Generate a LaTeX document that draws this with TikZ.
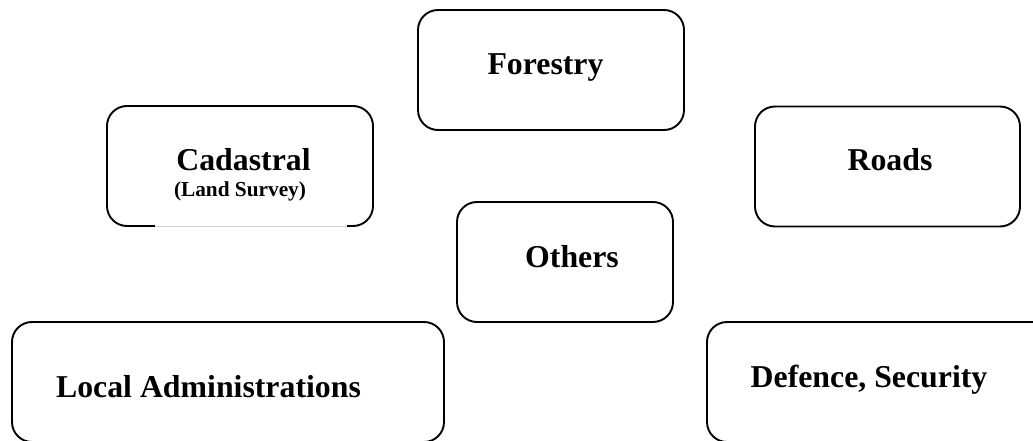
\documentclass[tikz,border=0pt]{standalone}
\usepackage{fontspec}
\setmainfont{Liberation Serif}
\begin{document}
\begin{tikzpicture}[x=1pt,y=-1pt,
  box/.style={draw=black, line width=1.9pt, rounded corners=20pt, inner sep=0pt, fill=white},
  lbl/.style={anchor=base, inner sep=0pt, font=\fontsize{31.8}{38}\selectfont\bfseries},
  sublbl/.style={anchor=base, inner sep=0pt, font=\fontsize{21.3}{25}\selectfont\bfseries}]
  \useasboundingbox (0,0) rectangle (1033,441);
  \clip (0,0) rectangle (1033,441);
  % category boxes
  \node[box, minimum width=266pt, minimum height=120pt] (forestry) at (551,70) {};
  \node[box, minimum width=266pt, minimum height=120pt] (cadastral) at (240,166) {};
  \node[box, minimum width=265pt, minimum height=120pt] (roads) at (887.5,166.5) {};
  \node[box, minimum width=216pt, minimum height=120pt] (others) at (565,262) {};
  \node[box, minimum width=432pt, minimum height=120pt] (localadm) at (228,382) {};
  \node[box, minimum width=360pt, minimum height=120pt] (defence) at (887,382) {};
  % faint segment along the lower edge of the cadastral box
  \draw[line width=2.4pt, white] (155,226) -- (347,226);
  \draw[line width=0.8pt, black!18] (155,226) -- (347,226);
  % labels
  \node[lbl] (tforestry) at (545.5,75) {Forestry};
  \node[lbl] (tcadastral) at (243.5,171) {Cadastral};
  \node[sublbl] (tland) at (240,196) {(Land Survey)};
  \node[lbl] (troads) at (890,171) {Roads};
  \node[lbl] (tothers) at (572,267) {Others};
  \node[lbl] (tlocal) at (208.5,397) {Local Administrations};
  \node[lbl] (tdefence) at (869,387) {Defence, Security};
\end{tikzpicture}
\end{document}
